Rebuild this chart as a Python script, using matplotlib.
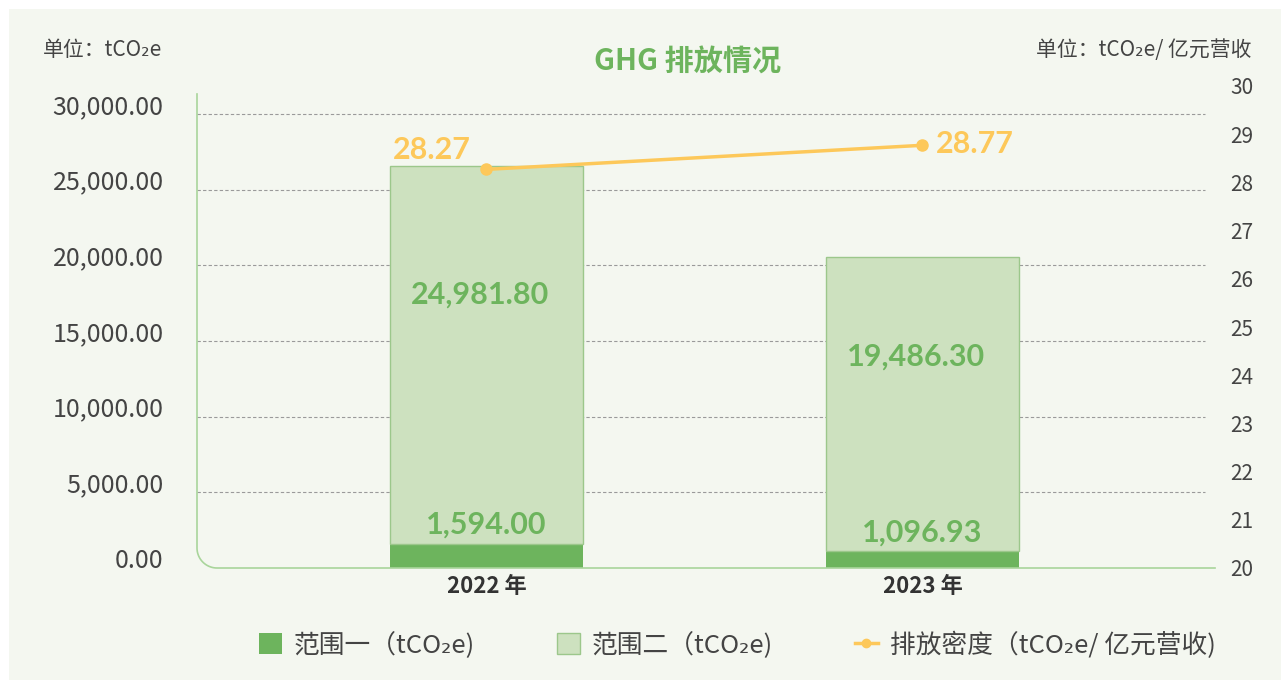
import matplotlib
matplotlib.use("Agg")
import matplotlib.pyplot as plt
from matplotlib.patches import Rectangle, Patch
from matplotlib.lines import Line2D
import matplotlib.transforms as mtrans
import numpy as np

plt.rcParams['font.family'] = ['Noto Sans CJK SC', 'DejaVu Sans']

# data
years = ['2022 年', '2023 年']
scope1 = [1594.00, 1096.93]
scope2 = [24981.80, 19486.30]
intensity = [28.27, 28.77]
left_ticks = [0, 5000, 10000, 15000, 20000, 25000, 30000]
right_ticks = list(range(20, 31))

GREEN = '#6db45d'
LIGHT = '#cde1bf'
EDGE = '#9cc78b'
YELLOW = '#fdc85a'
TEXT = '#444444'
BG = '#f4f7f0'

W, H = 1281, 680
fig = plt.figure(figsize=(W / 100, H / 100), dpi=100, facecolor='white')
fig.patches.append(Rectangle((9 / W, 0), 1, 1 - 9 / H, transform=fig.transFigure,
                             facecolor=BG, edgecolor='none', zorder=-10))

ax_l, ax_r, ax_b, ax_t = 197, 1215, 568, 86
ax = fig.add_axes([ax_l / W, 1 - ax_b / H, (ax_r - ax_l) / W, (ax_b - ax_t) / H])
ax.set_facecolor('none')
x = np.arange(len(years))
width = 0.443

ax.bar(x, scope1, width, color=GREEN, zorder=3)
ax.bar(x, scope2, width, bottom=scope1, color=LIGHT, edgecolor=EDGE, linewidth=1, zorder=3)

ax.set_xlim(-0.664, 1.671)
ax.set_ylim(0, 31850)
ax.set_yticks(left_ticks)
ax.set_yticklabels([f'{v:,.2f}' for v in left_ticks])
ax.set_xticks(x)
ax.set_xticklabels(years, fontweight='bold', fontsize=16, color='#333333')
ax.tick_params(axis='y', length=0, pad=24, labelsize=18, labelcolor=TEXT)
ax.tick_params(axis='x', length=0, pad=5)
for s in ax.spines.values():
    s.set_visible(False)
# left labels sit a little above their grid lines
shift = mtrans.ScaledTranslation(0, 10 / 100, fig.dpi_scale_trans)
for lab in ax.get_yticklabels():
    lab.set_transform(lab.get_transform() + shift)

for v in left_ticks[1:]:
    ax.axhline(v, xmin=0, xmax=0.99, color='#9a9a9a', lw=0.8, ls=(0, (3, 2)), zorder=1)

# labels on bars
for i in range(len(years)):
    ax.text(x[i], scope1[i] + 1250, f'{scope1[i]:,.2f}', ha='center', va='center',
            fontsize=22, fontweight='bold', color=GREEN, family='Lato', zorder=5)
    ax.text(x[i] - 0.015, scope1[i] + scope2[i] * 0.66, f'{scope2[i]:,.2f}', ha='center',
            va='center', fontsize=22, fontweight='bold', color=GREEN, family='Lato', zorder=5)

# right axis
ax2 = ax.twinx()
ax2.set_ylim(20, 30)
ax2.set_yticks(right_ticks)
ax2.tick_params(axis='y', length=0, pad=11, labelsize=15, labelcolor=TEXT)
for s in ax2.spines.values():
    s.set_visible(False)
ax2.plot(x, intensity, color=YELLOW, lw=2.5, marker='o', ms=8, zorder=6)
ax2.text(x[0] - 0.125, intensity[0] + 0.4, f'{intensity[0]:.2f}', ha='center', va='center',
         fontsize=22, fontweight='bold', color=YELLOW, family='Lato')
ax2.text(x[1] + 0.12, intensity[1] + 0.03, f'{intensity[1]:.2f}', ha='center', va='center',
         fontsize=22, fontweight='bold', color=YELLOW, family='Lato')

# axis line with rounded corner
r = 20
top = 94
theta = np.linspace(np.pi, 1.5 * np.pi, 20)
px = np.concatenate([[ax_l, ax_l], ax_l + r + r * np.cos(theta), [ax_r]])
py = np.concatenate([[top, ax_b - r], ax_b - r - r * np.sin(theta), [ax_b]])
fig.add_artist(Line2D(px / W, 1 - py / H, transform=fig.transFigure, color='#a9d59b', lw=1.2))

# titles
fig.text(688 / W, 1 - 62 / H, 'GHG 排放情况', ha='center', va='center', fontsize=21,
         fontweight='bold', color=GREEN)
fig.text(43 / W, 1 - 50 / H, '单位：tCO₂e', ha='left', va='center', fontsize=15, color=TEXT)
fig.text(1252 / W, 1 - 50 / H, '单位：tCO₂e/ 亿元营收', ha='right', va='center',
         fontsize=15, color=TEXT)

handles = [
    Patch(facecolor=GREEN, edgecolor='none'),
    Patch(facecolor=LIGHT, edgecolor=EDGE),
    Line2D([], [], color=YELLOW, lw=2.5, marker='o', ms=6),
]
labels = ['范围一（tCO₂e)', '范围二（tCO₂e)', '排放密度（tCO₂e/ 亿元营收)']
fig.legend(handles, labels, loc='center', bbox_to_anchor=(737 / W, 1 - 645 / H), ncol=3,
           frameon=False, fontsize=18.5, labelcolor=TEXT, handlelength=0.9, handleheight=0.9,
           handletextpad=0.45, columnspacing=3.2)

fig.savefig('out.png', dpi=100, facecolor=fig.get_facecolor())
